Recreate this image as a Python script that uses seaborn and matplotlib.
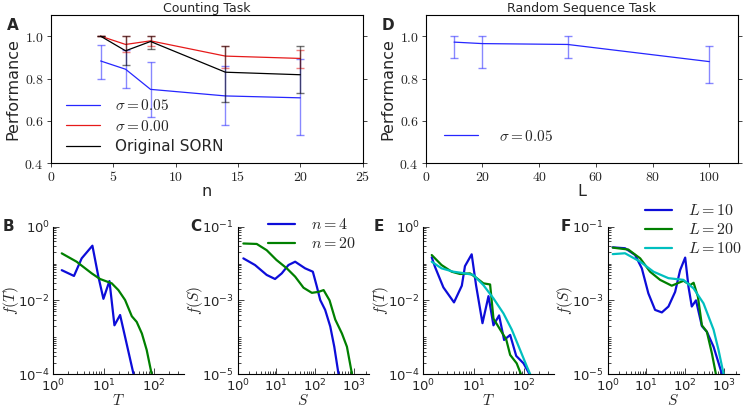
import numpy as np
import pandas as pd
import matplotlib
matplotlib.use("Agg")
import matplotlib.pyplot as plt
import seaborn as sns
from matplotlib.ticker import FuncFormatter, FixedLocator, LogLocator, NullFormatter
from matplotlib.lines import Line2D

# ---------------- data ----------------
# Panel A: Counting task
n_vals = [4, 6, 8, 14, 20]
perf_s005 = [0.883, 0.844, 0.749, 0.718, 0.709]
perf_s005_lo = [0.799, 0.754, 0.620, 0.579, 0.532]
perf_s005_hi = [0.958, 0.934, 0.879, 0.859, 0.890]
perf_s000 = [1.000, 0.961, 0.978, 0.906, 0.895]
perf_s000_lo = [1.000, 0.925, 0.955, 0.852, 0.848]
perf_s000_hi = [1.000, 1.000, 1.000, 0.954, 0.937]
perf_orig = [1.000, 0.931, 0.975, 0.830, 0.818]
perf_orig_lo = [1.000, 0.863, 0.939, 0.687, 0.733]
perf_orig_hi = [1.000, 1.000, 1.000, 0.954, 0.953]

# Panel D: Random sequence task
L_vals = [10, 20, 50, 100]
perf_L = [0.972, 0.965, 0.961, 0.880]
perf_L_lo = [0.899, 0.851, 0.899, 0.777]
perf_L_hi = [1.000, 1.000, 1.000, 0.956]

# Panel B: duration distributions (counting)
B_n4_T = [1.47, 2.57, 3.65, 5.96, 7.83, 9.85, 12.97, 16.3, 21.1, 27.8, 38.9, 45.0]
B_n4_f = [0.066, 0.046, 0.138, 0.305, 0.044, 0.011, 0.0335, 0.0021, 0.004, 0.00076, 0.0001, 0.00003]
B_n20_T = [1.47, 2.9, 5.78, 8.45, 14.4, 19.5, 26.5, 36.0, 45.0, 57.0, 71.0, 89.0, 100.0]
B_n20_f = [0.189, 0.112, 0.054, 0.038, 0.029, 0.019, 0.0102, 0.0037, 0.0026, 0.00126, 0.00045, 0.0001, 0.00004]

# Panel C: size distributions (counting)
C_n4_S = [1.4, 2.8, 5.6, 9.2, 13.7, 20.4, 30.4, 40.9, 55, 87, 110, 135, 181, 245, 311, 400, 450]
C_n4_f = [0.0138, 0.0091, 0.0049, 0.0038, 0.0054, 0.0091, 0.0112, 0.0091, 0.0074, 0.006,
          0.0024, 0.00102, 0.00055, 0.000195, 0.000055, 0.00001, 0.000004]
C_n20_S = [1.4, 3.1, 5.6, 10, 18.5, 30.4, 50, 82, 122, 165, 235, 330, 490, 660, 890, 1000]
C_n20_f = [0.035, 0.034, 0.023, 0.0125, 0.0074, 0.0044, 0.0022, 0.0016, 0.0017, 0.0019,
           0.001, 0.0003, 0.000126, 0.000055, 0.00001, 0.000004]

# Panel E: duration distributions (random sequence)
E_L10_T = [1.47, 1.7, 2.5, 4.06, 5.8, 6.7, 9.1, 11.1, 14.9, 19.6, 24.6, 31.8, 40, 52.7, 69.5, 97, 127, 140]
E_L10_f = [0.147, 0.082, 0.0225, 0.0088, 0.025, 0.085, 0.178, 0.026, 0.0024, 0.013, 0.0021,
           0.0039, 0.00084, 0.00115, 0.00031, 0.000195, 0.0001, 0.00005]
E_L20_T = [1.47, 2.3, 3.65, 5.35, 8.45, 11.5, 15.5, 21.1, 24.6, 31, 44, 52.7, 71, 86, 95]
E_L20_f = [0.17, 0.091, 0.06, 0.052, 0.054, 0.04, 0.029, 0.027, 0.0032, 0.0019, 0.00087,
           0.00033, 0.000195, 0.0001, 0.00005]
E_L100_T = [1.47, 2.3, 3.95, 6.7, 9.85, 15.5, 24.6, 38.9, 56.8, 83, 113, 131, 145]
E_L100_f = [0.112, 0.074, 0.06, 0.054, 0.049, 0.026, 0.0113, 0.0044, 0.0016, 0.00045,
            0.00016, 0.0001, 0.00005]

# Panel F: size distributions (random sequence)
F_L10_S = [1.35, 2.8, 5.1, 7.6, 11.2, 16.7, 25, 37, 55, 74, 100, 122, 148, 190, 270, 363, 540, 890, 1000]
F_L10_f = [0.0275, 0.026, 0.017, 0.0074, 0.00155, 0.00055, 0.00047, 0.00068, 0.0017, 0.0066,
           0.0145, 0.0023, 0.00068, 0.001, 0.0002, 0.00014, 0.000055, 0.00001, 0.000005]
F_L20_S = [1.35, 3.4, 6.9, 12.4, 22.5, 45, 90.6, 135, 165, 213, 270, 363, 490, 620, 700]
F_L20_f = [0.027, 0.024, 0.0138, 0.006, 0.0036, 0.0025, 0.0034, 0.0026, 0.003, 0.00126,
           0.00021, 0.00014, 0.000036, 0.00001, 0.000005]
F_L100_S = [1.35, 2.8, 6.9, 15.2, 37, 90, 165, 297, 540, 725, 980, 1100]
F_L100_f = [0.018, 0.019, 0.0112, 0.006, 0.004, 0.0036, 0.0021, 0.00083, 0.00016,
            0.000045, 0.00001, 0.000005]

# tick positions of the log panels
ticks_T_y = [1e-4, 1e-2, 1e0]
ticks_S_y = [1e-5, 1e-3, 1e-1]

# ---------------- style ----------------
sns.set_style("ticks")
plt.rcParams["font.family"] = ["DejaVu Sans"]
plt.rcParams["mathtext.fontset"] = "cm"

W, H = 750, 408
fig = plt.figure(figsize=(7.5, 4.08), dpi=100)


def px_axes(l, t, r, b):
    return fig.add_axes([l / W, 1 - b / H, (r - l) / W, (b - t) / H])


BLUE, RED, BLACK = (0.15, 0.15, 1.0), (0.9, 0.1, 0.1), "black"
DBLUE, GREEN, CYAN = (0.05, 0.05, 0.85), (0.0, 0.5, 0.0), (0.0, 0.75, 0.75)


def top_axes(ax, xlabel, title, letter, xlim, xticks):
    ax.set_xlim(*xlim)
    ax.set_ylim(0.4, 1.1)
    ax.set_xticks(xticks)
    ax.set_yticks([0.4, 0.6, 0.8, 1.0])
    ax.xaxis.set_major_formatter(FuncFormatter(lambda v, p: r"$%d$" % v))
    ax.yaxis.set_major_formatter(FuncFormatter(lambda v, p: r"$%.1f$" % v))
    ax.tick_params(direction="out", length=3, width=0.6, labelsize=10, pad=2,
                   right=True, top=False)
    for s in ax.spines.values():
        s.set_linewidth(0.8)
        s.set_color("black")
    ax.set_xlabel(xlabel, fontsize=11.5, labelpad=0)
    ax.set_ylabel("Performance", fontsize=11.5, labelpad=3)
    ax.set_title(title, fontsize=9, pad=1.5)
    ax.text(-0.12, 0.93, letter, transform=ax.transAxes, fontsize=11,
            fontweight="bold", ha="center", va="center")


def draw_err(ax, x, y, lo, hi, color, label):
    y = np.asarray(y)
    yerr = np.vstack([y - np.asarray(lo), np.asarray(hi) - y])
    ax.errorbar(x, y, yerr=yerr, fmt="none", ecolor=color, alpha=0.55,
                elinewidth=1.0, capsize=3, capthick=1.0)
    sns.lineplot(x=x, y=y, ax=ax, color=color, lw=0.9, label=label, legend=False)


# Panel A
axA = px_axes(50.7, 15, 362.7, 163.3)
draw_err(axA, n_vals, perf_s005, perf_s005_lo, perf_s005_hi, BLUE, r"$\sigma=0.05$")
draw_err(axA, n_vals, perf_s000, perf_s000_lo, perf_s000_hi, RED, r"$\sigma=0.00$")
draw_err(axA, n_vals, perf_orig, perf_orig_lo, perf_orig_hi, BLACK, "Original SORN")
top_axes(axA, "n", "Counting Task", "A", (0, 25), [0, 5, 10, 15, 20, 25])
hA = [Line2D([], [], color=BLUE, lw=0.9), Line2D([], [], color=RED, lw=0.9),
      Line2D([], [], color=BLACK, lw=0.9)]
axA.legend(hA, [r"$\sigma=0.05$", r"$\sigma=0.00$", "Original SORN"], loc="lower left",
           frameon=False, fontsize=11, handlelength=2.2, handletextpad=1.0,
           labelspacing=0.35, borderaxespad=0.2, bbox_to_anchor=(0.02, 0.0))

# Panel D
axD = px_axes(425.7, 15, 737.7, 163.3)
draw_err(axD, L_vals, perf_L, perf_L_lo, perf_L_hi, BLUE, r"$\sigma=0.05$")
top_axes(axD, "L", "Random Sequence Task", "D", (0, 110), [0, 20, 40, 60, 80, 100])
axD.legend([Line2D([], [], color=BLUE, lw=0.9)], [r"$\sigma=0.05$"], loc="lower left",
           frameon=False, fontsize=11, handlelength=2.2, handletextpad=1.4,
           borderaxespad=0.2, bbox_to_anchor=(0.03, 0.07))


def bottom_axes(ax, xlabel, ylabel, letter, xlim, ylim, yticks, letter_x):
    ax.set_xscale("log")
    ax.set_yscale("log")
    ax.set_xlim(*xlim)
    ax.set_ylim(*ylim)
    ax.yaxis.set_major_locator(FixedLocator(yticks))
    ax.yaxis.set_minor_locator(LogLocator(base=10, subs=np.arange(1, 10), numticks=50))
    ax.yaxis.set_minor_formatter(NullFormatter())
    ax.xaxis.set_major_locator(LogLocator(base=10, numticks=10))
    ax.xaxis.set_minor_locator(LogLocator(base=10, subs=np.arange(2, 10), numticks=50))
    ax.xaxis.set_minor_formatter(NullFormatter())
    sns.despine(ax=ax)
    ax.tick_params(which="both", direction="in", width=0.6, labelsize=9.5, pad=2.5)
    ax.tick_params(which="major", length=4)
    ax.tick_params(which="minor", length=2)
    for s in ax.spines.values():
        s.set_linewidth(0.8)
        s.set_color("black")
    ax.set_xlabel(xlabel, fontsize=11, labelpad=-1)
    ax.set_ylabel(ylabel, fontsize=11)
    ax.yaxis.set_label_coords(-0.25, 0.5)
    ax.text(letter_x, 1.0, letter, transform=ax.transAxes, fontsize=11,
            fontweight="bold", ha="center", va="center")


def curve(ax, x, y, color, label):
    sns.lineplot(x=x, y=y, ax=ax, color=color, lw=1.6, label=label, legend=False)


# Panel B
axB = px_axes(53.3, 226.7, 184, 374)
axB.set_xscale("log"); axB.set_yscale("log")
curve(axB, B_n4_T, B_n4_f, DBLUE, r"$n=4$")
curve(axB, B_n20_T, B_n20_f, GREEN, r"$n=20$")
bottom_axes(axB, r"$T$", r"$f(T)$", "B", (1, 390), (1e-4, 1), ticks_T_y, -0.34)

# Panel C
axC = px_axes(237.7, 226.7, 369, 374)
axC.set_xscale("log"); axC.set_yscale("log")
curve(axC, C_n4_S, C_n4_f, DBLUE, r"$n=4$")
curve(axC, C_n20_S, C_n20_f, GREEN, r"$n=20$")
bottom_axes(axC, r"$S$", r"$f(S)$", "C", (1, 2450), (1e-5, 1e-1), ticks_S_y, -0.32)
axC.legend([Line2D([], [], color=DBLUE, lw=1.6), Line2D([], [], color=GREEN, lw=1.6)],
           [r"$n=4$", r"$n=20$"], loc="upper right", frameon=False, fontsize=11.5,
           handlelength=1.7, handletextpad=1.0, labelspacing=0.25, borderaxespad=0,
           bbox_to_anchor=(362 / W, 1 - 211 / H), bbox_transform=fig.transFigure)

# Panel E
axE = px_axes(423.3, 226.7, 554, 374)
axE.set_xscale("log"); axE.set_yscale("log")
curve(axE, E_L10_T, E_L10_f, DBLUE, r"$L=10$")
curve(axE, E_L20_T, E_L20_f, GREEN, r"$L=20$")
curve(axE, E_L100_T, E_L100_f, CYAN, r"$L=100$")
bottom_axes(axE, r"$T$", r"$f(T)$", "E", (1, 390), (1e-4, 1), ticks_T_y, -0.34)

# Panel F
axF = px_axes(607.7, 226.7, 739, 374)
axF.set_xscale("log"); axF.set_yscale("log")
curve(axF, F_L10_S, F_L10_f, DBLUE, r"$L=10$")
curve(axF, F_L20_S, F_L20_f, GREEN, r"$L=20$")
curve(axF, F_L100_S, F_L100_f, CYAN, r"$L=100$")
bottom_axes(axF, r"$S$", r"$f(S)$", "F", (1, 2450), (1e-5, 1e-1), ticks_S_y, -0.32)
axF.legend([Line2D([], [], color=DBLUE, lw=1.6), Line2D([], [], color=GREEN, lw=1.6),
            Line2D([], [], color=CYAN, lw=1.6)],
           [r"$L=10$", r"$L=20$", r"$L=100$"], loc="upper right", frameon=False,
           fontsize=11.5, handlelength=1.7, handletextpad=1.0, labelspacing=0.25,
           borderaxespad=0, bbox_to_anchor=(749 / W, 1 - 197 / H),
           bbox_transform=fig.transFigure)

fig.savefig("out.png", dpi=100)
